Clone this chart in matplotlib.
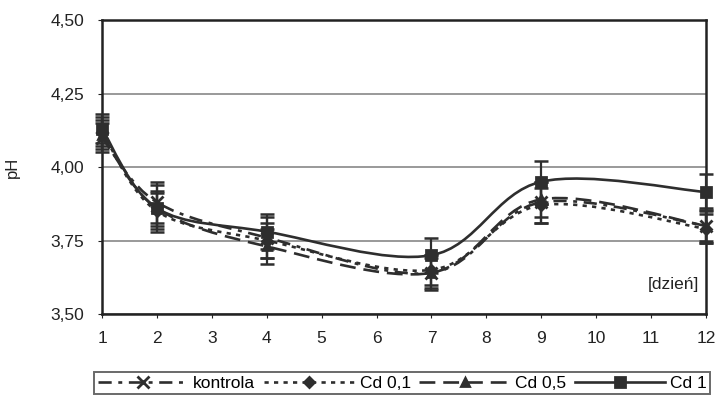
import numpy as np
import matplotlib
matplotlib.use("Agg")
from matplotlib import pyplot as plt
from matplotlib.path import Path
from matplotlib.patches import PathPatch
from matplotlib.lines import Line2D

plt.rcParams["font.family"] = ["Liberation Sans", "DejaVu Sans"]

days = [1, 2, 4, 7, 9, 12]
series_names = ["kontrola", "Cd 0,1", "Cd 0,5", "Cd 1"]
kontrola = [4.10, 3.88, 3.76, 3.64, 3.88, 3.80]
cd_01 = [4.12, 3.85, 3.75, 3.65, 3.87, 3.79]
cd_05 = [4.11, 3.86, 3.73, 3.64, 3.89, 3.80]
cd_1 = [4.13, 3.86, 3.78, 3.70, 3.95, 3.915]
err_kontrola = [0.05, 0.07, 0.07, 0.06, 0.07, 0.06]
err_cd_01 = [0.05, 0.06, 0.06, 0.05, 0.06, 0.05]
err_cd_05 = [0.05, 0.06, 0.06, 0.05, 0.06, 0.05]
err_cd_1 = [0.05, 0.08, 0.06, 0.06, 0.07, 0.06]
y_ticks = [3.50, 3.75, 4.00, 4.25, 4.50]
y_labels = ["3,50", "3,75", "4,00", "4,25", "4,50"]
x_ticks = list(range(1, 13))

styles = [
    dict(ls=(0, (5, 2.5, 1.5, 2.5)), marker="x", ms=8, lw=1.9),
    dict(ls=(0, (1.6, 2)), marker="D", ms=5, lw=1.9),
    dict(ls=(0, (6, 3)), marker="^", ms=6, lw=1.9),
    dict(ls="-", marker="s", ms=7, lw=1.9),
]
color = "#2e2e2e"


def smooth_path(x, y):
    # Excel-like smoothed line drawn as cubic Bezier segments
    x = np.asarray(x, float)
    y = np.asarray(y, float)
    verts = [(x[0], y[0])]
    codes = [Path.MOVETO]
    n = len(x)
    for i in range(n - 1):
        x0, y0 = (x[i - 1], y[i - 1]) if i > 0 else (x[i], y[i])
        x3, y3 = (x[i + 2], y[i + 2]) if i + 2 < n else (x[i + 1], y[i + 1])
        c1 = (x[i] + (x[i + 1] - x0) / 6, y[i] + (y[i + 1] - y0) / 6)
        c2 = (x[i + 1] - (x3 - x[i]) / 6, y[i + 1] - (y3 - y[i]) / 6)
        verts += [c1, c2, (x[i + 1], y[i + 1])]
        codes += [Path.CURVE4] * 3
    return Path(verts, codes)


fig = plt.figure(figsize=(7.16, 4.09), dpi=100)
ax = fig.add_axes([0.1425, 0.2323, 0.8435, 0.7187])

values = [kontrola, cd_01, cd_05, cd_1]
errors = [err_kontrola, err_cd_01, err_cd_05, err_cd_1]
handles = []
for name, vals, errs, st in zip(series_names, values, errors, styles):
    patch = PathPatch(smooth_path(days, vals), fill=False, edgecolor=color,
                      lw=st["lw"], linestyle=st["ls"], zorder=3, clip_on=False)
    ax.add_patch(patch)
    ax.errorbar(days, vals, yerr=errs, fmt="none", ecolor=color, elinewidth=1.6,
                capsize=5, capthick=1.8, zorder=4, clip_on=False)
    ax.plot(days, vals, linestyle="none", marker=st["marker"], ms=st["ms"],
            color=color, mew=2, zorder=5, clip_on=False)
    handles.append(Line2D([], [], color=color, lw=st["lw"], linestyle=st["ls"],
                          marker=st["marker"], ms=st["ms"], mew=2, label=name))

ax.set_xlim(1, 12)
ax.set_ylim(3.5, 4.5)
ax.set_xticks(x_ticks)
ax.set_xticklabels([str(t) for t in x_ticks])
ax.set_yticks(y_ticks)
ax.set_yticklabels(y_labels)
ax.yaxis.grid(True, color="#999999", lw=1.4)
ax.set_axisbelow(True)
for s in ax.spines.values():
    s.set_color("#222222")
    s.set_linewidth(1.8)
ax.tick_params(axis="both", labelsize=12.5, colors="#222222", length=3)
ax.tick_params(axis="y", pad=10)
ax.tick_params(axis="x", pad=9)
ax.set_ylabel("pH", fontsize=12, color="#222222", labelpad=22)
ax.text(0.988, 0.10, "[dzień]", transform=ax.transAxes, ha="right", va="center",
        fontsize=12.5, color="#222222")

leg = fig.legend(handles=handles, loc="center", bbox_to_anchor=(0.562, 0.063),
                 ncol=4, frameon=True, fontsize=12.5, handlelength=5.2,
                 columnspacing=0.5, handletextpad=0.3, borderpad=0.2,
                 fancybox=False, edgecolor="#444444")
leg.get_frame().set_linewidth(1.4)

fig.savefig("out.png", dpi=100)
